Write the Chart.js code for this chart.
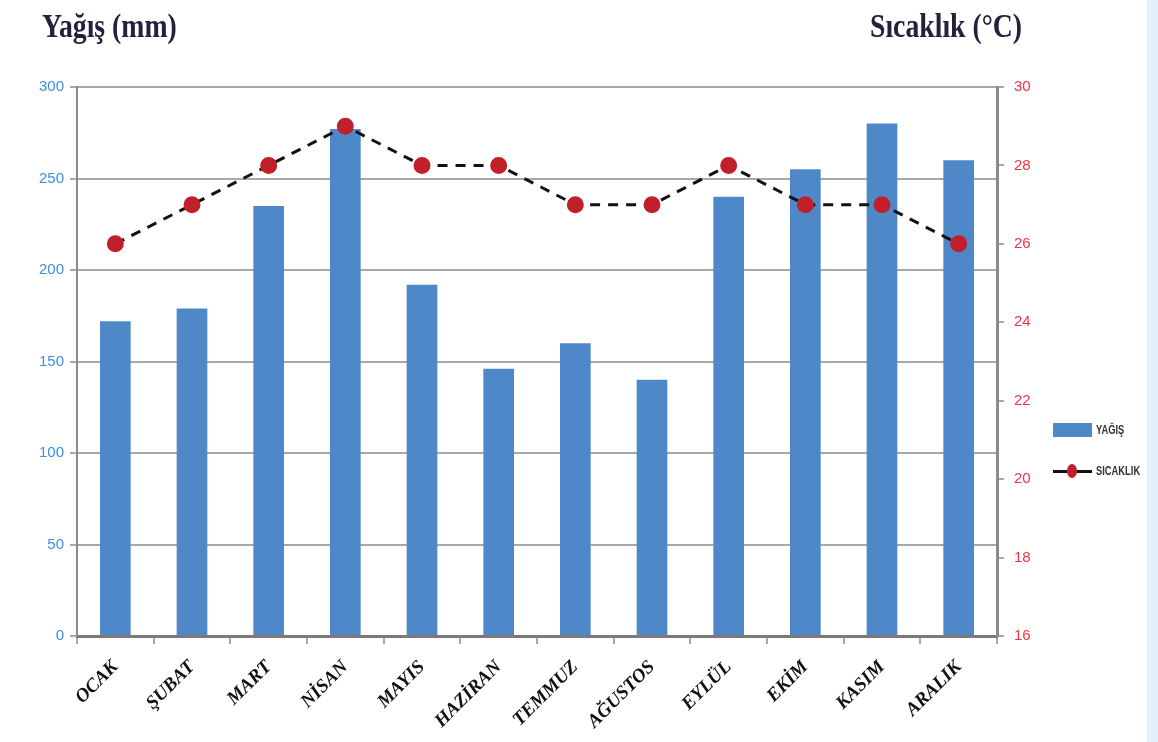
<!DOCTYPE html>
<html>
<head>
<meta charset="utf-8">
<script src="https://cdn.jsdelivr.net/npm/chart.js@4.4.1/dist/chart.umd.min.js"></script>
<style>
  html, body { margin: 0; padding: 0; background: #fff; }
  #wrap { position: relative; width: 1158px; height: 742px; overflow: hidden; }
  #strip { position: absolute; left: 1147px; top: 0; width: 11px; height: 742px; background: #e4f1fb; }
  .title { position: absolute; top: 8px; font-family: "Liberation Serif", serif; font-weight: bold;
           font-size: 33px; color: #22223c; transform: scaleX(0.84); transform-origin: left top; white-space: nowrap; }
  .legend { position: absolute; font-family: "Liberation Sans", sans-serif;
            font-weight: bold; font-size: 12px; color: #333; white-space: nowrap; }
  .legend .txt { display: inline-block; transform: scaleX(0.78); transform-origin: left center; vertical-align: middle; margin-left: 1px; }
</style>
</head>
<body>
<div id="wrap">
  <canvas id="chart" width="1158" height="742"></canvas>
  <div id="strip"></div>
  <div class="title" style="left:42px;">Yağış (mm)</div>
  <div class="title" style="left:870px;">Sıcaklık (°C)</div>
  <div class="legend" style="left:1053px; top:422px;">
    <span style="display:inline-block;width:39px;height:14px;background:#4f88c8;vertical-align:middle;"></span>
    <span class="txt">YAĞIŞ</span>
  </div>
  <div class="legend" style="left:1053px; top:463px;">
    <span style="display:inline-block;position:relative;width:39px;height:16px;vertical-align:middle;">
      <span style="position:absolute;left:0;top:7px;width:39px;height:3px;background:#111;"></span>
      <span style="position:absolute;left:14px;top:1px;width:10px;height:14px;border-radius:50%;background:#c0202a;"></span>
    </span>
    <span class="txt">SICAKLIK</span>
  </div>
</div>
<script>
const months = ["OCAK", "ŞUBAT", "MART", "NİSAN", "MAYIS", "HAZİRAN", "TEMMUZ", "AĞUSTOS", "EYLÜL", "EKİM", "KASIM", "ARALIK"];
const rainfall = [172, 179, 235, 277, 192, 146, 160, 140, 240, 255, 280, 260];
const temperature = [26, 27, 28, 29, 28, 28, 27, 27, 28, 27, 27, 26];

const chartLeft = 77, chartRight = 997, chartTop = 87, chartBottom = 636;

new Chart(document.getElementById("chart"), {
  data: {
    labels: months,
    datasets: [
      {
        type: "line",
        label: "SICAKLIK",
        data: temperature,
        yAxisID: "yT",
        borderColor: "#111",
        borderWidth: 3,
        borderDash: [10, 8],
        pointBackgroundColor: "#c0202a",
        pointBorderColor: "#c0202a",
        pointRadius: 7,
        tension: 0,
        order: 0
      },
      {
        type: "bar",
        label: "YAĞIŞ",
        data: rainfall,
        yAxisID: "y",
        backgroundColor: "#4f88c8",
        barPercentage: 0.4,
        categoryPercentage: 1,
        order: 1
      }
    ]
  },
  options: {
    responsive: false,
    animation: false,
    layout: { padding: { top: chartTop, left: 0, right: 0, bottom: 0 } },
    plugins: { legend: { display: false }, tooltip: { enabled: false } },
    scales: {
      x: {
        afterFit: s => { s.height = 742 - chartBottom; },
        grid: { drawOnChartArea: false, offset: true, tickLength: 8, color: "#a8a8a8", lineWidth: 2 },
        border: { color: "#7a7a7a", width: 3 },
        ticks: {
          minRotation: 45, maxRotation: 45, padding: 12,
          color: "#111",
          font: { family: "Liberation Serif", weight: "bold", style: "italic", size: 19 }
        }
      },
      y: {
        position: "left",
        min: 0, max: 300,
        afterFit: s => { s.width = chartLeft; },
        ticks: { stepSize: 50, color: "#3d8fd8", padding: 6,
                 font: { family: "Liberation Sans", size: 15 } },
        grid: { color: "#a8a8a8", lineWidth: 2, tickLength: 7 },
        border: { color: "#8a8a8a", width: 2 }
      },
      yT: {
        position: "right",
        min: 16, max: 30,
        afterFit: s => { s.width = 1158 - chartRight; },
        ticks: { stepSize: 2, color: "#ee3344", padding: 10,
                 font: { family: "Liberation Sans", size: 15 } },
        grid: { drawOnChartArea: false, color: "#a8a8a8", lineWidth: 2, tickLength: 7 },
        border: { color: "#8a8a8a", width: 3 }
      }
    }
  }
});
</script>
</body>
</html>
